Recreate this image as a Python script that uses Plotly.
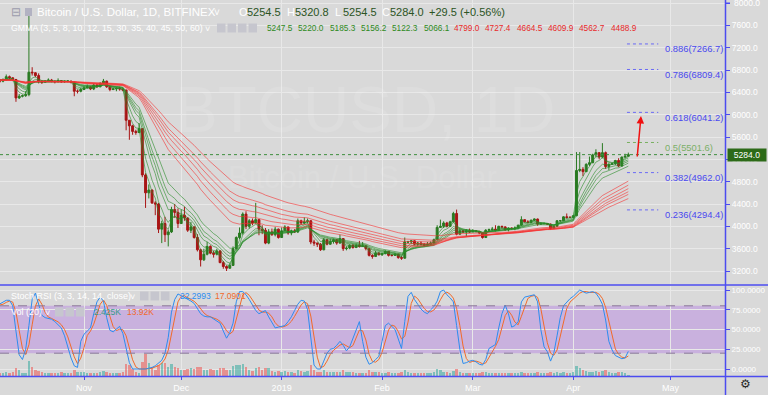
import pandas as pd
import numpy as np
import plotly.graph_objects as go

# ---------------- DATA (Bitfinex BTC/USD daily) ----------------
start_date = "2018-10-05"
first_open = 6640.0

close_oct = [6620, 6600, 6620, 6680, 6660, 6630, 6300, 6330, 6340, 6360, 6760, 6750, 6700, 6590, 6580,
             6600, 6620, 6600, 6590, 6610, 6590, 6600, 6600, 6580, 6420, 6420, 6450]
close_nov = [6480, 6500, 6460, 6530, 6500, 6560, 6600, 6500, 6450, 6460, 6470, 6460, 6440, 5900, 5800,
             5700, 5680, 5750, 4920, 4600, 4650, 4420, 4400, 3950, 4050, 3850, 3900, 4300, 4250, 4050]
close_dec = [4200, 4150, 3930, 3990, 3800, 3580, 3400, 3500, 3640, 3520, 3500, 3560, 3350, 3280, 3250,
             3300, 3600, 3800, 3880, 4220, 4000, 4100, 4060, 4120, 3950, 3930, 3700, 3900, 3850, 3950, 3800]
close_jan = [3920, 3990, 3880, 3920, 3900, 4100, 4060, 4080, 4100, 3720, 3700, 3680, 3580, 3760, 3680,
             3730, 3760, 3700, 3780, 3600, 3610, 3660, 3620, 3660, 3640, 3650, 3600, 3480, 3460, 3520, 3490]
close_feb = [3510, 3550, 3480, 3480, 3500, 3440, 3430, 3720, 3720, 3740, 3680, 3700, 3680, 3660, 3680,
             3700, 3760, 3980, 4000, 4060, 4000, 4080, 4230, 3860, 3920, 3900, 3920, 3900]
close_mar = [3920, 3910, 3880, 3800, 3930, 3940, 3950, 3930, 4000, 3990, 3940, 3970, 3960, 3970, 4020,
             4120, 4080, 4070, 4110, 4130, 4040, 4050, 4050, 4040, 3960, 4000, 4100, 4100, 4170, 4160, 4160]
close_apr = [4190, 5000, 5020, 4980, 5110, 5140, 5280, 5320, 5240, 5320, 5070, 5110, 5120, 5180, 5080,
             5240, 5254.5, 5284.0]

high_oct = [6660, 6640, 6650, 6720, 6700, 6670, 6640, 6370, 6360, 6420, 7780, 6850, 6760, 6740, 6620,
            6620, 6650, 6640, 6610, 6650, 6620, 6610, 6620, 6610, 6590, 6450, 6480]
high_nov = [6510, 6540, 6510, 6560, 6550, 6580, 6640, 6610, 6510, 6480, 6490, 6500, 6470, 6450, 5900,
            5820, 5730, 5850, 5750, 4950, 4750, 4660, 4450, 4420, 4100, 4170, 3940, 4350, 4400, 4320]
high_dec = [4300, 4350, 4160, 4080, 4000, 3860, 3600, 3600, 3720, 3660, 3560, 3600, 3570, 3380, 3300,
            3340, 3640, 3820, 3980, 4250, 4270, 4130, 4140, 4420, 4120, 4020, 3970, 3950, 3960, 3990, 3960]
high_jan = [3980, 4020, 3990, 3940, 3950, 4140, 4120, 4160, 4140, 4110, 3760, 3710, 3700, 3790, 3780,
            3780, 3780, 3770, 3850, 3790, 3640, 3680, 3680, 3690, 3740, 3720, 3660, 3600, 3500, 3560, 3540]
high_feb = [3530, 3570, 3560, 3500, 3520, 3510, 3470, 3800, 3740, 3750, 3750, 3720, 3730, 3700, 3720,
            3730, 3780, 4020, 4120, 4090, 4080, 4100, 4260, 4300, 3960, 3940, 3950, 3960]
high_mar = [3950, 3930, 3920, 3890, 3950, 3960, 3990, 4020, 4010, 4010, 4000, 3980, 3980, 4000, 4030,
            4180, 4120, 4110, 4120, 4140, 4140, 4070, 4070, 4060, 4050, 4010, 4110, 4110, 4180, 4230, 4180]
high_apr = [4200, 5330, 5330, 5060, 5130, 5250, 5300, 5380, 5320, 5490, 5340, 5130, 5140, 5190, 5220,
            5250, 5300, 5320.8]

low_oct = [6590, 6570, 6580, 6610, 6640, 6600, 6230, 6280, 6310, 6320, 6330, 6700, 6670, 6560, 6550,
           6570, 6590, 6580, 6560, 6580, 6570, 6570, 6580, 6560, 6330, 6380, 6400]
low_nov = [6440, 6470, 6440, 6440, 6480, 6490, 6550, 6480, 6420, 6440, 6420, 6430, 6420, 5720, 5550,
           5640, 5640, 5670, 4880, 4330, 4500, 4400, 4200, 3880, 3700, 3720, 3640, 3880, 4150, 3970]
low_dec = [4050, 4100, 3900, 3880, 3780, 3550, 3280, 3380, 3480, 3500, 3440, 3480, 3340, 3240, 3200,
           3240, 3290, 3580, 3770, 3850, 3950, 3960, 4020, 4050, 3840, 3860, 3680, 3680, 3830, 3820, 3780]
low_jan = [3790, 3910, 3850, 3840, 3880, 3880, 4030, 4040, 4060, 3680, 3650, 3630, 3560, 3570, 3660,
           3670, 3690, 3670, 3690, 3560, 3570, 3590, 3600, 3610, 3620, 3630, 3570, 3460, 3420, 3450, 3480]
low_feb = [3470, 3500, 3460, 3460, 3470, 3420, 3400, 3420, 3690, 3680, 3660, 3650, 3660, 3640, 3650,
           3670, 3690, 3750, 3970, 3970, 3980, 3990, 4070, 3840, 3850, 3880, 3820, 3880]
low_mar = [3900, 3890, 3860, 3780, 3790, 3900, 3920, 3910, 3920, 3960, 3920, 3910, 3940, 3930, 3960,
           4010, 4070, 4050, 4060, 4090, 4010, 4030, 4040, 4030, 3940, 3960, 3990, 4080, 4090, 4140, 4150]
low_apr = [4150, 4180, 4970, 4900, 4970, 5080, 5130, 5240, 5200, 5220, 5030, 5010, 5100, 5100, 5060,
           5070, 5220, 5254.5]

# Stoch RSI %K line
k_oct = [80, 82, 84, 87, 87, 80, 48, 18, 12, 25, 55, 88, 96, 82, 68, 65, 64, 63, 60, 56, 52, 42, 28, 14, 4, 2, 35]
k_nov = [44, 48, 52, 70, 85, 91, 86, 65, 49, 47, 50, 54, 45, 27, 8, 0, 0, 0, 0, 0, 1, 2, 4, 7, 11, 20, 40, 72, 88, 95]
k_dec = [93, 90, 88, 86, 83, 76, 70, 67, 66, 66, 63, 60, 58, 48, 39, 46, 58, 85, 98, 98, 94, 88, 80, 74, 70,
         72, 74, 66, 58, 52, 53]
k_jan = [54, 55, 60, 66, 74, 82, 87, 86, 75, 40, 5, 0, 0, 10, 20, 25, 26, 30, 35, 30, 23, 28, 38, 50, 60,
         35, 15, 6, 8, 12, 16]
k_feb = [35, 55, 58, 54, 50, 38, 26, 60, 92, 97, 88, 82, 76, 72, 70, 75, 79, 86, 98, 100, 94, 90, 85, 55, 25, 7, 8, 10]
k_mar = [11, 9, 6, 5, 12, 26, 29, 31, 52, 70, 81, 70, 53, 55, 60, 85, 91, 92, 93, 94, 85, 50, 28, 22, 10,
         20, 42, 65, 80, 85, 89]
k_apr = [92, 96, 100, 98, 96, 97, 98, 96, 90, 82, 62, 35, 24, 17, 15, 13, 14, 22.3]

# Volume (thousands)
vol_oct = [12, 10, 9, 14, 11, 12, 26, 18, 10, 10, 47, 30, 18, 16, 12, 9, 9, 11, 10, 11, 12, 11, 8, 8, 20, 14, 12]
vol_nov = [12, 11, 9, 10, 10, 14, 16, 12, 11, 8, 8, 10, 12, 38, 36, 22, 12, 10, 45, 70, 40, 28, 18, 35, 42,
           40, 30, 38, 28, 25]
vol_dec = [20, 18, 22, 24, 22, 28, 30, 20, 18, 22, 20, 18, 25, 24, 20, 18, 32, 35, 34, 38, 30, 20, 16, 24,
           28, 18, 26, 24, 16, 14, 16]
vol_jan = [14, 16, 14, 12, 10, 20, 16, 14, 16, 34, 18, 12, 14, 20, 14, 12, 12, 12, 12, 18, 12, 12, 12, 10,
           10, 8, 10, 18, 14, 12, 12]
vol_feb = [10, 8, 12, 10, 10, 10, 12, 20, 14, 10, 10, 10, 10, 10, 8, 8, 12, 22, 18, 14, 12, 10, 16, 22, 14, 10, 10, 10]
vol_mar = [10, 8, 8, 12, 12, 10, 10, 10, 8, 8, 10, 10, 8, 8, 8, 14, 10, 8, 8, 10, 12, 10, 8, 8, 12, 10, 12,
           10, 12, 10, 10]
vol_apr = [12, 32, 26, 18, 16, 14, 14, 16, 14, 16, 20, 12, 8, 8, 12, 12, 8, 2.425]

short_periods = [3, 5, 8, 10, 12, 15]
long_periods = [30, 35, 40, 45, 50, 60]

month_ticks = ["2018-11-01", "2018-12-01", "2019-01-01", "2019-02-01", "2019-03-01", "2019-04-01", "2019-05-01"]
month_labels = ["Nov", "Dec", "2019", "Feb", "Mar", "Apr", "May"]

fib_ratios = ["0.886", "0.786", "0.618", "0.5", "0.382", "0.236"]
fib_prices = [7266.7, 6809.4, 6041.2, 5501.6, 4962.0, 4294.4]
fib_span = ["2019-04-17 14:00", "2019-04-27 06:00"]
arrow_from = ("2019-04-20 17:00", 5224)
arrow_to = ("2019-04-21 22:00", 5976)
last_price = 5284.0
top_price_tick = 8000.0

header_ohlc = [("O", "5254.5"), ("H", "5320.8"), ("L", "5254.5"), ("C", "5284.0")]
header_change = "+29.5 (+0.56%)"
gmma_short_vals = ["5247.5", "5220.0", "5185.3", "5156.2", "5122.3", "5066.1"]
gmma_long_vals = ["4799.0", "4727.4", "4664.5", "4609.9", "4562.7", "4488.9"]
stoch_vals = ["22.2993", "17.0901"]
vol_vals = ["2.425K", "13.92K"]

# ---------------- assemble ----------------
close = close_oct + close_nov + close_dec + close_jan + close_feb + close_mar + close_apr
high = high_oct + high_nov + high_dec + high_jan + high_feb + high_mar + high_apr
low = low_oct + low_nov + low_dec + low_jan + low_feb + low_mar + low_apr
kv = k_oct + k_nov + k_dec + k_jan + k_feb + k_mar + k_apr
vol = vol_oct + vol_nov + vol_dec + vol_jan + vol_feb + vol_mar + vol_apr
n = len(close)
dates = pd.date_range(start_date, periods=n, freq="D")
opens = [first_open] + close[:-1]
high = [max(h, o, c) for h, o, c in zip(high, opens, close)]
low = [min(l, o, c) for l, o, c in zip(low, opens, close)]

cs = pd.Series(close, index=dates)
ema = {p: cs.ewm(span=p, adjust=False).mean() for p in short_periods + long_periods}
k_ser = pd.Series(kv[:n], index=dates)
d_ser = k_ser.rolling(3, min_periods=1).mean()

# ---------------- geometry / style ----------------
W, H = 768, 395
BG = "#d9d9d9"
GRID = "#e8e8e8"
BLUE = "#4c4cf0"
FONT = "Liberation Sans, Arial, sans-serif"


def px(x):
    return x / W


def py(y):
    return 1 - y / H


def price_at(yp):
    return 8000 - (yp - 3) * 4800 / 268


def stoch_at(yp):
    return (369 - yp) / 79 * 100


nov1 = pd.Timestamp("2018-11-01")


def date_at(xp):
    return nov1 + pd.Timedelta(days=(xp - 84) / 3.24)


x_range = [date_at(0), date_at(725)]

fig = go.Figure()

for p in short_periods:
    fig.add_trace(go.Scatter(x=dates, y=ema[p], mode="lines", line=dict(color="rgba(40,140,40,0.6)", width=1),
                             xaxis="x", yaxis="y", hoverinfo="skip", showlegend=False))
for p in long_periods:
    fig.add_trace(go.Scatter(x=dates, y=ema[p], mode="lines", line=dict(color="rgba(245,50,50,0.6)", width=1),
                             xaxis="x", yaxis="y", hoverinfo="skip", showlegend=False))

fig.add_trace(go.Candlestick(
    x=dates, open=opens, high=high, low=low, close=close,
    increasing=dict(line=dict(color="#2a7a22", width=1), fillcolor="#2a7a22"),
    decreasing=dict(line=dict(color="#a81515", width=1), fillcolor="#a81515"),
    whiskerwidth=0, xaxis="x", yaxis="y", showlegend=False))

vcolors = ["rgba(38,166,154,0.5)" if c >= o else "rgba(239,83,80,0.55)" for o, c in zip(opens, close)]
fig.add_trace(go.Bar(x=dates, y=vol, marker=dict(color=vcolors, line=dict(width=0)),
                     width=0.75 * 86400000, xaxis="x2", yaxis="y2", showlegend=False))
fig.add_trace(go.Scatter(x=dates, y=d_ser, mode="lines", line=dict(color="#f26a2a", width=1),
                         xaxis="x2", yaxis="y3", showlegend=False))
fig.add_trace(go.Scatter(x=dates, y=k_ser, mode="lines", line=dict(color="#2d8cf0", width=1),
                         xaxis="x2", yaxis="y3", showlegend=False))

shapes = []
shapes.append(dict(type="rect", xref="x2 domain", x0=0, x1=1, yref="y3", y0=20, y1=80,
                   fillcolor="#c9b1de", line=dict(width=0), layer="below"))
for lvl in (80, 20):
    shapes.append(dict(type="line", xref="x2 domain", x0=0, x1=1, yref="y3", y0=lvl, y1=lvl,
                       line=dict(color="#8a7a98", width=1, dash="dash")))
shapes.append(dict(type="line", xref="x domain", x0=0, x1=1, yref="y", y0=last_price, y1=last_price,
                   line=dict(color="#3f8f3f", width=1, dash="dot")))
for r, p in zip(fib_ratios, fib_prices):
    col = "#78b060" if r == "0.5" else "#6a6af5"
    shapes.append(dict(type="line", xref="x", x0=fib_span[0], x1=fib_span[1], yref="y", y0=p, y1=p,
                       line=dict(color=col, width=1, dash="dot")))
for yp in (285, 376.5):
    shapes.append(dict(type="line", xref="paper", yref="paper", x0=0, x1=1, y0=py(yp), y1=py(yp),
                       line=dict(color=BLUE, width=1.5)))
shapes.append(dict(type="line", xref="paper", yref="paper", x0=px(725.5), x1=px(725.5), y0=0, y1=1,
                   line=dict(color=BLUE, width=1.5)))
# tick mark for the top price label
shapes.append(dict(type="line", xref="paper", yref="y", x0=px(726), x1=px(730), y0=top_price_tick,
                   y1=top_price_tick, line=dict(color=BLUE, width=1)))


def icon_row(x0, yc, count):
    for i in range(count):
        xs = x0 + i * 10.5
        shapes.append(dict(type="rect", xref="paper", yref="paper", x0=px(xs), x1=px(xs + 8.5),
                           y0=py(yc + 4.5), y1=py(yc - 4.5), fillcolor="#c6c6ce", line=dict(width=0)))


shapes.append(dict(type="rect", xref="paper", yref="paper", x0=px(25), x1=px(32), y0=py(16), y1=py(8),
                   fillcolor="#b2b2c2", line=dict(width=0)))
icon_row(217, 28, 4)
icon_row(140, 296, 3)
icon_row(55, 312, 3)

ann = []


def text(t, x, y, color="white", size=9, xanchor="left", yref="paper", **kw):
    d = dict(text=t, x=px(x), xref="paper", y=(py(y) if yref == "paper" else y), yref=yref,
             xanchor=xanchor, yanchor="middle", showarrow=False,
             font=dict(color=color, size=size, family=FONT))
    d.update(kw)
    ann.append(d)


text("BTCUSD, 1D", 365, 110, color="rgba(255,255,255,0.11)", size=64, xanchor="center")
text("Bitcoin / U.S. Dollar", 362, 178, color="rgba(255,255,255,0.11)", size=31, xanchor="center")

text("⊟", 9, 12, color="#9c9cac", size=12)
text("Bitcoin / U.S. Dollar, 1D, BITFINEX", 35, 12, size=11.5)
text("˅", 212, 13, size=10)
ohlc_x = [237, 285, 333, 380]
for (lab, val), xx in zip(header_ohlc, ohlc_x):
    text(lab, xx, 12, size=11)
    text(val, xx + 8, 12, color="#2b5424", size=11)
text(header_change, 427, 12, color="#2b5424", size=11)

text("GMMA (3, 5, 8, 10, 12, 15, 30, 35, 40, 45, 50, 60)", 9, 28, size=8.8)
text("˅", 203, 29, size=9)
for i, v in enumerate(gmma_short_vals):
    text(v, 265 + i * 31.3, 28, color="#2e8a22", size=8.3)
for i, v in enumerate(gmma_long_vals):
    text(v, 452 + i * 31.3, 28, color="#e82a2a", size=8.3)

text("Stoch RSI (3, 3, 14, 14, close)", 9, 296, size=9)
text("˅", 128, 297, size=9)
text(stoch_vals[0], 178, 296, color="#2d8cf0", size=8.5)
text(stoch_vals[1], 213, 296, color="#f26a2a", size=8.5)
text("Vol (20)", 9, 312, size=9)
text("˅", 43, 313, size=9)
text(vol_vals[0], 92, 312, color="#3a9a88", size=8.5)
text(vol_vals[1], 125, 312, color="#f26a2a", size=8.5)

for r, p in zip(fib_ratios, fib_prices):
    col = "#7cb068" if r == "0.5" else "#4a4af0"
    text(f"{r}({p:.1f})", 663, p, color=col, size=9.4, yref="y", yshift=-5)

text(f"{top_price_tick:.1f}", 732, top_price_tick, yref="y", color="white", size=8.5)
text(f"{last_price:.1f}", 727, last_price, yref="y", color="white", size=8.5, bgcolor="#2d6a18",
     width=36, align="center", borderpad=1)

text("⚙", 745, 384, color="#2a2a2a", size=12, xanchor="center")

ann.append(dict(x=arrow_to[0], y=arrow_to[1], xref="x", yref="y", ax=arrow_from[0], ay=arrow_from[1],
                axref="x", ayref="y", text="", showarrow=True, arrowhead=2, arrowsize=1,
                arrowwidth=1.5, arrowcolor="#f01010"))

fig.update_layout(
    width=W, height=H, margin=dict(l=0, r=0, t=0, b=0),
    paper_bgcolor=BG, plot_bgcolor=BG, showlegend=False, hovermode=False,
    font=dict(family=FONT, color="white"),
    bargap=0, boxgap=0.15,
    xaxis=dict(domain=[0, px(725)], range=x_range, anchor="y", showticklabels=False,
               tickvals=month_ticks, ticks="", showgrid=True, gridcolor=GRID, gridwidth=1,
               zeroline=False, rangeslider=dict(visible=False), showline=False, type="date"),
    xaxis2=dict(domain=[0, px(725)], range=x_range, anchor="y2", matches="x",
                tickvals=month_ticks, ticktext=month_labels,
                tickfont=dict(color="white", size=9, family=FONT), ticks="outside", ticklen=3,
                tickcolor=BLUE, showgrid=True, gridcolor=GRID, zeroline=False,
                rangeslider=dict(visible=False), showline=False, type="date"),
    yaxis=dict(domain=[py(284), 1], range=[price_at(284), price_at(0)], anchor="x", side="right",
               dtick=400, tick0=0, tickformat=".1f", tickfont=dict(color="white", size=8.5, family=FONT),
               ticks="outside", ticklen=4, tickcolor=BLUE, showgrid=True, gridcolor=GRID,
               zeroline=False, showline=False),
    yaxis2=dict(domain=[py(376), py(286)], range=[0, 286], anchor="x2", visible=False, fixedrange=True),
    yaxis3=dict(overlaying="y2", anchor="x2", side="right", range=[stoch_at(376), stoch_at(286)],
                tickvals=[0, 25, 50, 75, 100], tickformat=".4f",
                tickfont=dict(color="white", size=8, family=FONT), ticks="outside", ticklen=4,
                tickcolor=BLUE, showgrid=True, gridcolor=GRID, zeroline=False, showline=False),
    shapes=shapes, annotations=ann,
)

fig.write_html("out.html", config={"displayModeBar": False},
               post_script="document.body.style.margin='0';document.body.style.overflow='hidden';")
